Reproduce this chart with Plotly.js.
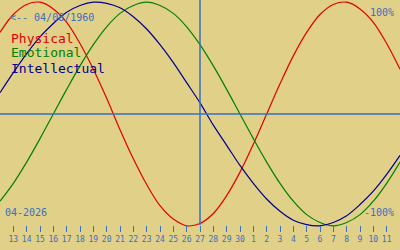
<!DOCTYPE html>
<html>
<head>
<meta charset="utf-8">
<script src="https://cdn.plot.ly/plotly-3.0.1.min.js"></script>
<style>html,body{margin:0;padding:0;background:#e0d088;}#chart{width:400px;height:250px;}</style>
</head>
<body>
<div id="chart"></div>
<script>
// Day offsets (-1 = 12 Apr ... 29 = 12 May)
var dayIndex = [-1,0,1,2,3,4,5,6,7,8,9,10,11,12,13,14,15,16,17,18,19,20,21,22,23,24,25,26,27,28,29];
// Tick labels (13 Apr 2026 .. 11 May 2026)
var tickIndex = [0,1,2,3,4,5,6,7,8,9,10,11,12,13,14,15,16,17,18,19,20,21,22,23,24,25,26,27,28];
var tickLabels = ["13","14","15","16","17","18","19","20","21","22","23","24","25","26","27","28","29","30","1","2","3","4","5","6","7","8","9","10","11"];
// Cycle values (-1..1) read per day
var physical = [0.73,0.89,0.98,1.00,0.94,0.82,0.63,0.40,0.14,-0.14,-0.40,-0.63,-0.82,-0.94,-1.00,-0.98,-0.89,-0.73,-0.52,-0.27,0.00,0.27,0.52,0.73,0.89,0.98,1.00,0.94,0.82,0.63,0.40];
var emotional = [-0.78,-0.62,-0.43,-0.22,0.00,0.22,0.43,0.62,0.78,0.90,0.97,1.00,0.97,0.90,0.78,0.62,0.43,0.22,0.00,-0.22,-0.43,-0.62,-0.78,-0.90,-0.97,-1.00,-0.97,-0.90,-0.78,-0.62,-0.43];
var intellectual = [0.19,0.37,0.54,0.69,0.81,0.91,0.97,1.00,0.99,0.95,0.87,0.76,0.62,0.46,0.28,0.10,-0.10,-0.28,-0.46,-0.62,-0.76,-0.87,-0.95,-0.99,-1.00,-0.97,-0.91,-0.81,-0.69,-0.54,-0.37];
// Shift arrays: values correspond to dayIndex order
var todayIndex = 14;
var birthLabel = "<-- 04/08/1960";
var monthLabel = "04-2026";
var seriesNames = ["Physical","Emotional","Intellectual"];
var seriesColors = ["#e00000","#008000","#000090"];

var blue = "#3a6fc4";
var mono = "DejaVu Sans Mono, Liberation Mono, monospace";

// physical array offset: index 0 corresponds to dayIndex -1
var traces = [physical, emotional, intellectual].map(function(v, k){
  return {
    x: dayIndex, y: v, type: "scatter", mode: "lines",
    line: {color: seriesColors[k], width: 1.2, shape: "spline", smoothing: 1},
    hoverinfo: "skip", showlegend: false
  };
});

var layout = {
  width: 400, height: 250,
  margin: {l: 0, r: 0, t: 0, b: 0, pad: 0},
  paper_bgcolor: "#e0d088", plot_bgcolor: "#e0d088",
  showlegend: false,
  xaxis: {
    range: [-1, 29], anchor: "free", position: 0.1,
    showgrid: false, zeroline: false, showline: false,
    tickmode: "array", tickvals: tickIndex, ticktext: tickLabels,
    ticks: "outside", ticklen: 6, tickwidth: 1, tickcolor: blue,
    tickfont: {family: mono, size: 8, color: blue},
    fixedrange: true
  },
  yaxis: {
    range: [-1.2165, 1.0197], domain: [0, 1],
    showgrid: false, zeroline: false, showline: false, showticklabels: false, ticks: "",
    fixedrange: true
  },
  shapes: [
    {type: "line", xref: "paper", yref: "y", x0: 0, x1: 1, y0: 0, y1: 0, line: {color: blue, width: 1.5}},
    {type: "line", xref: "x", yref: "paper", x0: todayIndex, x1: todayIndex, y0: 0.1, y1: 1, line: {color: blue, width: 1.5}}
  ],
  annotations: [
    {text: birthLabel, xref: "paper", yref: "paper", x: 8/400, y: 1 - 17/250, xanchor: "left", yanchor: "middle", showarrow: false, font: {family: mono, size: 10, color: blue}},
    {text: "100%", xref: "paper", yref: "paper", x: 396/400, y: 1 - 12/250, xanchor: "right", yanchor: "middle", showarrow: false, font: {family: mono, size: 10, color: blue}},
    {text: "-100%", xref: "paper", yref: "paper", x: 396/400, y: 1 - 212/250, xanchor: "right", yanchor: "middle", showarrow: false, font: {family: mono, size: 10, color: blue}},
    {text: monthLabel, xref: "paper", yref: "paper", x: 3/400, y: 1 - 212.5/250, xanchor: "left", yanchor: "middle", showarrow: false, font: {family: mono, size: 10, color: blue}},
    {text: seriesNames[0], xref: "paper", yref: "paper", x: 9/400, y: 1 - 38/250, xanchor: "left", yanchor: "middle", showarrow: false, font: {family: mono, size: 13, color: seriesColors[0]}},
    {text: seriesNames[1], xref: "paper", yref: "paper", x: 9/400, y: 1 - 53/250, xanchor: "left", yanchor: "middle", showarrow: false, font: {family: mono, size: 13, color: seriesColors[1]}},
    {text: seriesNames[2], xref: "paper", yref: "paper", x: 9/400, y: 1 - 68/250, xanchor: "left", yanchor: "middle", showarrow: false, font: {family: mono, size: 13, color: seriesColors[2]}}
  ]
};

Plotly.newPlot("chart", traces, layout, {staticPlot: true, displayModeBar: false});
</script>
</body>
</html>
